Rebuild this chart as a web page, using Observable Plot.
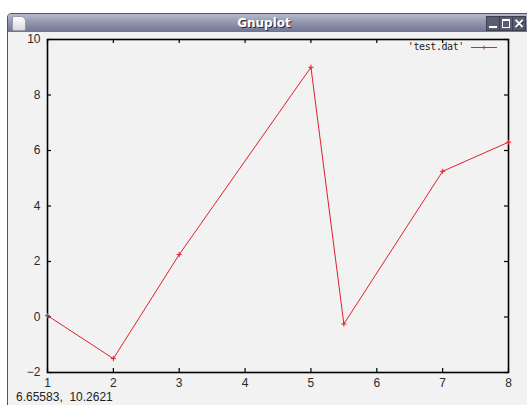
<!DOCTYPE html>
<html>
<head>
<meta charset="utf-8">
<script src="https://cdn.jsdelivr.net/npm/d3@7"></script>
<script src="https://cdn.jsdelivr.net/npm/@observablehq/plot@0.6"></script>
<style>
  html, body { margin: 0; padding: 0; background: #ffffff; }
  body { width: 527px; height: 405px; overflow: hidden; position: relative; font-family: "Liberation Sans", Arial, sans-serif; }
  #win { position: absolute; left: 7px; top: 13px; width: 530px; height: 400px; border: 1px solid #50546a; border-radius: 4px 4px 0 0; background: #f2f2f2; overflow: hidden; }
  #titlebar { position: absolute; left: 0; top: 0; right: 0; height: 18px; background: linear-gradient(#b8bbcc, #9397ae 45%, #707492); color: #fff; font: bold 12px "DejaVu Sans", sans-serif; text-align: center; line-height: 18px; text-shadow: 1px 1px 0 #2a2c3c; }
  #titlebar .t { position: absolute; left: 0; width: 512px; text-align: center; }
  #icon { position: absolute; left: 4px; top: 2px; width: 12px; height: 13px; background: linear-gradient(#ffffff, #d8d8de); border-radius: 2px 5px 2px 2px; border: 1px solid #9a9aa8; }
  .btn { position: absolute; top: 2px; width: 12px; height: 13px; background: #5a5d72; border: 1px solid #3c3e50; color: #fff; }
  #bmin { left: 478px; } #bmax { left: 491px; } #bclose { left: 504px; }
  #bmin::after { content: ""; position: absolute; left: 2px; right: 2px; bottom: 2px; height: 2px; background: #fff; }
  #bmax::after { content: ""; position: absolute; left: 2px; right: 2px; top: 2px; bottom: 2px; border: 1px solid #fff; border-top-width: 2px; }
  #bclose { font: bold 14px "DejaVu Sans", sans-serif; line-height: 13px; text-align: center; }
  #chart { position: absolute; left: 10px; top: 31px; }
  #legend { position: absolute; left: 380px; top: 40px; width: 120px; height: 14px; }
  #legend .lt { position: absolute; right: 36px; top: 0; font: 10px "DejaVu Sans Mono", monospace; letter-spacing: -0.4px; color: #222; line-height: 14px; white-space: pre; }
  #status { position: absolute; left: 16px; top: 390px; font: 12px/14px "Liberation Sans", Arial, sans-serif; color: #222; white-space: pre; }
</style>
</head>
<body>
<div id="win">
  <div id="titlebar"><div id="icon"></div><span class="t">Gnuplot</span>
    <div class="btn" id="bmin"></div><div class="btn" id="bmax"></div><div class="btn" id="bclose">×</div>
  </div>
</div>
<div id="chart"></div>
<div id="legend"><span class="lt">'test.dat'</span>
  <svg width="120" height="14" style="position:absolute;left:0;top:0">
    <line x1="91" x2="117" y1="7.5" y2="7.5" stroke="#e0202e" stroke-width="1"/>
    <line x1="104" x2="104" y1="5.5" y2="9.5" stroke="#e0202e" stroke-width="1"/>
  </svg>
</div>
<div id="status">6.65583,  10.2621</div>
<script>
const xValues = [1, 2, 3, 5, 5.5, 7, 8];
const yValues = [0.05, -1.5, 2.25, 9, -0.25, 5.25, 6.3];
const xTicks = [1, 2, 3, 4, 5, 6, 7, 8];
const yTicks = [-2, 0, 2, 4, 6, 8, 10];
const lineColor = "#e0202e";

const data = xValues.map((x, i) => ({x, y: yValues[i]}));

const W = 517, H = 374, mL = 37, mR = 19, mT = 8, mB = 33;
const innerH = H - mT - mB, innerW = W - mL - mR;
const tk = 4;

const chart = Plot.plot({
  width: W, height: H,
  marginLeft: mL, marginRight: mR, marginTop: mT, marginBottom: mB,
  x: {domain: [1, 8], label: null},
  y: {domain: [-2, 10], label: null},
  style: {background: "transparent", fontFamily: "Liberation Sans, Arial, sans-serif", fontSize: "12px", color: "#2a2a2a", overflow: "visible"},
  marks: [
    Plot.axisX(xTicks, {tickSize: 0, tickPadding: 6, fontSize: 12}),
    Plot.axisY(yTicks, {tickSize: 0, tickPadding: 7, fontSize: 12}),
    Plot.tickX(xTicks, {x: d => d, insetTop: innerH - tk, stroke: "#000", strokeWidth: 1.2}),
    Plot.tickX(xTicks, {x: d => d, insetBottom: innerH - tk, stroke: "#000", strokeWidth: 1.2}),
    Plot.tickY(yTicks, {y: d => d, insetRight: innerW - tk, stroke: "#000", strokeWidth: 1.2}),
    Plot.tickY(yTicks, {y: d => d, insetLeft: innerW - tk, stroke: "#000", strokeWidth: 1.2}),
    Plot.frame({stroke: "#000", strokeWidth: 1.6}),
    Plot.line(data, {x: "x", y: "y", stroke: lineColor, strokeWidth: 1}),
    Plot.dot(data, {x: "x", y: "y", symbol: "plus", r: 1.8, stroke: lineColor, strokeWidth: 1})
  ]
});
document.getElementById("chart").appendChild(chart);
</script>
</body>
</html>
